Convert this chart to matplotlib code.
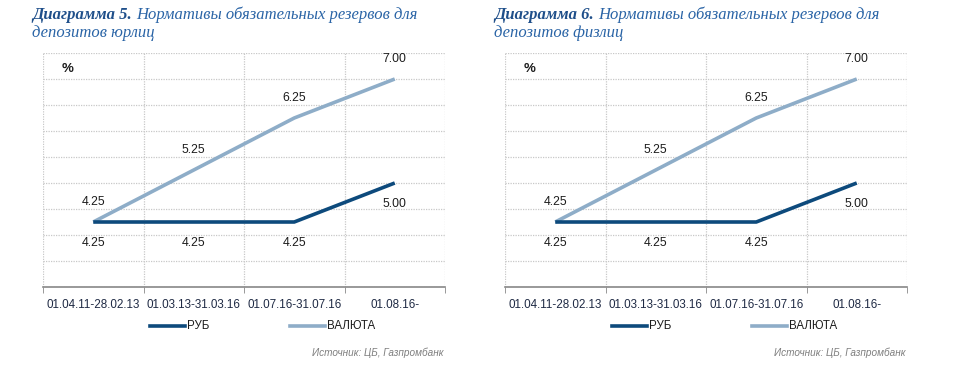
import matplotlib.pyplot as plt
import numpy as np

plt.rcParams['font.family'] = ['Liberation Sans', 'DejaVu Sans']

categories = ["01.04.11-28.02.13", "01.03.13-31.03.16", "01.07.16-31.07.16", "01.08.16-"]
rub_legal = [4.25, 4.25, 4.25, 5.00]
fx_legal = [4.25, 5.25, 6.25, 7.00]
rub_retail = [4.25, 4.25, 4.25, 5.00]
fx_retail = [4.25, 5.25, 6.25, 7.00]
titles = [("Диаграмма 5.", "Нормативы обязательных резервов для", "депозитов юрлиц"),
          ("Диаграмма 6.", "Нормативы обязательных резервов для", "депозитов физлиц")]
source = "Источник: ЦБ, Газпромбанк"

DARK = "#0d4a7c"
LIGHT = "#8eadc8"
GRID = "#c8c8c8"
TEXT = "#1c1c1c"
TITLE = "#2a64a6"

fig = plt.figure(figsize=(9.59, 3.78), dpi=100)


def panel(left_px, rub, fx, title):
    ax = fig.add_axes([left_px / 959, 1 - 287 / 378, 402 / 959, 234 / 378])
    x = np.arange(len(categories))
    ax.plot(x, fx, color=LIGHT, lw=2.6, solid_capstyle='butt', zorder=3)
    ax.plot(x, rub, color=DARK, lw=2.6, solid_capstyle='butt', zorder=4)
    ax.set_xlim(-0.5, 3.5)
    ax.set_ylim(3.0, 7.5)
    ax.set_yticks(np.arange(3.0, 7.51, 0.5))
    ax.set_yticklabels([])
    ax.tick_params(axis='y', length=0)
    ax.set_xticks(x)
    ax.set_xticklabels(categories, fontsize=8.4, color="#1f2a44")
    ax.tick_params(axis='x', length=0, pad=9)
    ax.set_xticks(np.arange(-0.5, 3.6, 1), minor=True)
    ax.tick_params(axis='x', which='minor', length=4, direction='out', color='#888888')
    ax.grid(True, which='major', axis='y', color=GRID, ls=(0, (1, 1)), lw=0.9)
    ax.grid(True, which='minor', axis='x', color=GRID, ls=(0, (1, 1)), lw=0.9)
    for s in ['top', 'left', 'right']:
        ax.spines[s].set_visible(False)
    ax.spines['bottom'].set_color('#888888')
    ax.spines['bottom'].set_linewidth(1.2)
    for xi, v in zip(x, fx):
        ax.annotate(f"{v:.2f}", (xi, v), xytext=(0, 14.5), textcoords='offset points',
                    ha='center', va='center', fontsize=8.8, color=TEXT)
    for xi, v in zip(x, rub):
        ax.annotate(f"{v:.2f}", (xi, v), xytext=(0, -15), textcoords='offset points',
                    ha='center', va='center', fontsize=8.8, color=TEXT)
    ax.text(0.06, 0.93, "%", transform=ax.transAxes, fontsize=9.5, fontweight='bold',
            color=TEXT, ha='center', va='center')

    # legend
    lx = (left_px + 107) / 959
    ly = 1 - 326 / 378
    fig.add_artist(plt.Line2D([lx, lx + 35 / 959], [ly, ly], color=DARK, lw=2.6))
    fig.text(lx + 37 / 959, ly, "РУБ", fontsize=8.3, va='center', color=TEXT)
    lx2 = (left_px + 247) / 959
    fig.add_artist(plt.Line2D([lx2, lx2 + 35 / 959], [ly, ly], color=LIGHT, lw=2.6))
    fig.text(lx2 + 37 / 959, ly, "ВАЛЮТА", fontsize=8.3, va='center', color=TEXT)
    fig.text((left_px + 400) / 959, 1 - 353 / 378, source, fontsize=7.2, style='italic',
             color="#7f7f7f", ha='right', va='center')

    # title
    tx = (left_px - 11) / 959
    t1 = fig.text(tx, 1 - 15 / 378, title[0] + " ", fontsize=12.0, style='italic',
                  fontweight='bold', color="#1f4f8a", va='center', family='Liberation Serif')
    fig.canvas.draw()
    bb = t1.get_window_extent()
    fig.text(bb.x1 / 959, 1 - 15 / 378, title[1], fontsize=12.0, style='italic',
             color=TITLE, va='center', family='Liberation Serif')
    fig.text(tx, 1 - 33 / 378, title[2], fontsize=12.0, style='italic',
             color=TITLE, va='center', family='Liberation Serif')


panel(43, rub_legal, fx_legal, titles[0])
panel(505, rub_retail, fx_retail, titles[1])

fig.savefig("out.png", dpi=100)
